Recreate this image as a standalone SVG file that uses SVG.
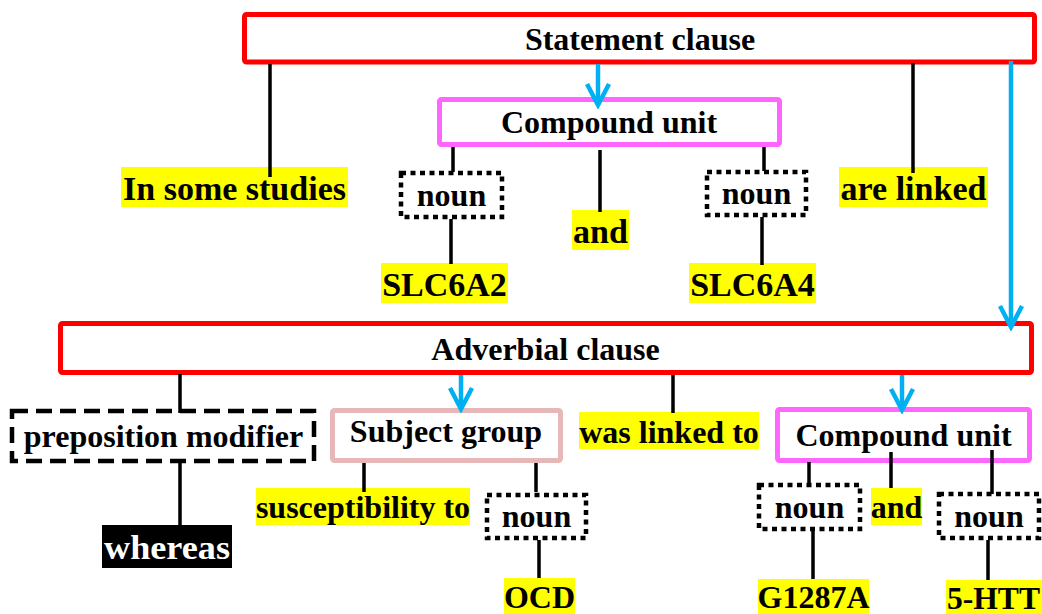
<svg xmlns="http://www.w3.org/2000/svg" width="1042" height="614" viewBox="0 0 1042 614">
<style>
text{font-family:"Liberation Serif","Times New Roman",serif;font-weight:bold;fill:#000;text-anchor:middle}
.f32{font-size:32px}
.f34{font-size:34px}
.clause{fill:#fff;stroke:#ff0000;stroke-width:5}
.unit{fill:#fff;stroke:#ff66ff;stroke-width:5}
.subj{fill:#fff;stroke:#e6b8b7;stroke-width:5}
.noun{fill:#fff;stroke:#000;stroke-width:4.5;stroke-dasharray:5 4.5}
.prep{fill:#fff;stroke:#000;stroke-width:4.5;stroke-dasharray:16 8}
.hl{fill:#ffff00}
.link{stroke:#000;stroke-width:3.5;fill:none}
.arrow{stroke:#00b0f0;stroke-width:4.5;fill:none;marker-end:url(#chev)}
</style>
<defs>
<marker id="chev" markerUnits="userSpaceOnUse" viewBox="-26 -16 30 32" refX="0" refY="0" markerWidth="30" markerHeight="32" orient="auto">
<path d="M-21,-11 L0,0 L-21,11" fill="none" stroke="#00b0f0" stroke-width="4.5" stroke-linejoin="miter"/>
</marker>
</defs>

<g id="statement-clause"><rect class="clause" x="244.5" y="14.5" width="790" height="47.5" rx="2"/><text class="f32" x="640" y="50">Statement clause</text></g>
<g id="compound-unit-1"><rect class="unit" x="439.5" y="99.5" width="340" height="45" rx="2"/><text class="f32" x="609" y="133">Compound unit</text></g>
<g id="in-some-studies"><rect class="hl" x="121" y="167" width="227" height="40"/><text class="f34" x="234.5" y="200">In some studies</text></g>
<g id="noun-1"><rect class="noun" x="401" y="173" width="101" height="44"/><text class="f32" x="451.5" y="206">noun</text></g>
<g id="slc6a2"><rect class="hl" x="381" y="263" width="127" height="40"/><text class="f34" x="444.5" y="296">SLC6A2</text></g>
<g id="and-1"><rect class="hl" x="572" y="210" width="57" height="40"/><text class="f34" x="600.5" y="243">and</text></g>
<g id="noun-2"><rect class="noun" x="707" y="172" width="99" height="43"/><text class="f32" x="756.5" y="204">noun</text></g>
<g id="slc6a4"><rect class="hl" x="689" y="263" width="127" height="40"/><text class="f34" x="752.5" y="296">SLC6A4</text></g>
<g id="are-linked"><rect class="hl" x="839" y="167" width="149" height="40"/><text class="f34" x="913.5" y="200">are linked</text></g>

<g id="adverbial-clause"><rect class="clause" x="60.5" y="323.5" width="971" height="49" rx="2"/><text class="f32" x="545.5" y="360">Adverbial clause</text></g>
<g id="preposition-modifier"><rect class="prep" x="12" y="411" width="302" height="50"/><text class="f32" x="163.5" y="447">preposition modifier</text></g>
<g id="whereas"><rect x="102" y="525" width="130" height="43" fill="#000"/><text class="f34" x="167" y="559" style="fill:#fff" textLength="126" lengthAdjust="spacingAndGlyphs">whereas</text></g>
<g id="subject-group"><rect class="subj" x="332.5" y="410.5" width="228" height="50" rx="2"/><text class="f32" x="446" y="442">Subject group</text></g>
<g id="susceptibility-to"><rect class="hl" x="256" y="488" width="214" height="37"/><text class="f32" x="363" y="518">susceptibility to</text></g>
<g id="noun-3"><rect class="noun" x="487" y="495" width="99" height="43"/><text class="f32" x="536.5" y="527">noun</text></g>
<g id="ocd"><rect class="hl" x="504" y="578" width="71" height="37"/><text class="f32" x="539.5" y="608">OCD</text></g>
<g id="was-linked-to"><rect class="hl" x="579" y="412" width="180" height="37"/><text class="f32" x="669" y="443">was linked to</text></g>
<g id="compound-unit-2"><rect class="unit" x="777.5" y="409.5" width="252" height="51" rx="2"/><text class="f32" x="903.5" y="446">Compound unit</text></g>
<g id="noun-4"><rect class="noun" x="759" y="485" width="101" height="44"/><text class="f32" x="809.5" y="518">noun</text></g>
<g id="and-2"><rect class="hl" x="871" y="488" width="51" height="37"/><text class="f32" x="896.5" y="518">and</text></g>
<g id="noun-5"><rect class="noun" x="939" y="494" width="100" height="44"/><text class="f32" x="989" y="527">noun</text></g>
<g id="g1287a"><rect class="hl" x="758" y="579" width="111" height="37"/><text class="f32" x="813.5" y="608">G1287A</text></g>
<g id="five-htt"><rect class="hl" x="946" y="580" width="96" height="37"/><text class="f32" x="947" y="609" style="text-anchor:start" textLength="93" lengthAdjust="spacingAndGlyphs">5-HTT</text></g>

<g id="connectors">
<path class="link" d="M270,64V177 M453,147V172 M451,219V264 M600,150V212 M764,147V171 M762,217V265 M913,63V173 M180,374V413 M180,462V525 M364,463V492 M536,463V492 M539,540V578 M673,375V413 M809,462V485 M891,452V488 M992,450V494 M813,531V579 M988,540V580"/>
<line class="arrow" x1="598" y1="64" x2="598" y2="105"/>
<line class="arrow" x1="1011" y1="61" x2="1011" y2="327"/>
<line class="arrow" x1="461" y1="375" x2="461" y2="409"/>
<line class="arrow" x1="902" y1="375" x2="902" y2="410"/>
</g>
</svg>
